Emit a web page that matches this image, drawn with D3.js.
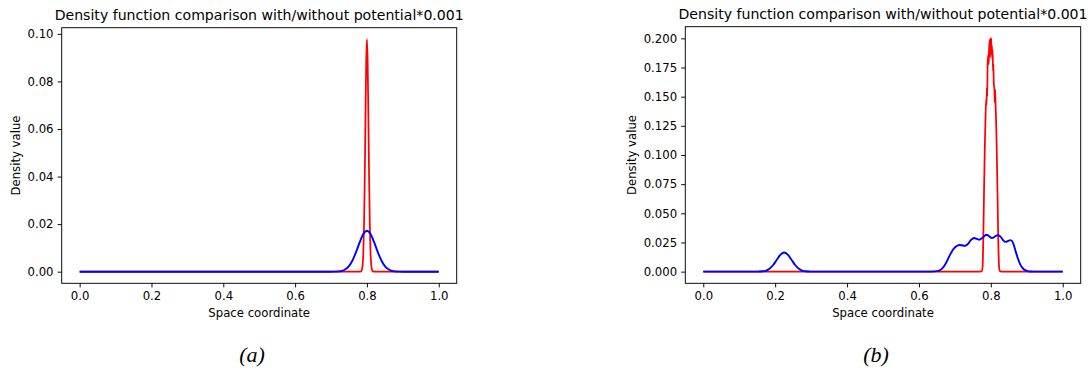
<!DOCTYPE html>
<html>
<head>
<meta charset="utf-8">
<script src="https://cdn.jsdelivr.net/npm/d3@7"></script>
<style>
  html, body { margin: 0; padding: 0; background: #ffffff; }
  svg { display: block; }
  text { font-family: "DejaVu Sans", sans-serif; fill: #000; }
</style>
</head>
<body>
<svg id="chart" width="1092" height="374"></svg>
<script>
// ---------- data ----------
const titleText = "Density function comparison with/without potential*0.001";
const xLabelText = "Space coordinate";
const yLabelText = "Density value";
const captions = ["(a)", "(b)"];

const xTicks = [0, 0.2, 0.4, 0.6, 0.8, 1.0];
const yTicksA = [0, 0.02, 0.04, 0.06, 0.08, 0.10];
const yTicksB = [0, 0.025, 0.05, 0.075, 0.1, 0.125, 0.15, 0.175, 0.2];

// panel (a): red = with potential, blue = without
const aRedX = [0, 0.78, 0.784, 0.786, 0.788, 0.79, 0.792, 0.794, 0.796, 0.798, 0.8, 0.802, 0.804, 0.806, 0.808, 0.81, 0.812, 0.814, 0.816, 0.82, 1];
const aRedY = [0, 0, 0.0002, 0.0008, 0.0028, 0.0082, 0.0201, 0.0401, 0.0657, 0.0883, 0.0977, 0.0883, 0.0657, 0.0401, 0.0201, 0.0082, 0.0028, 0.0008, 0.0002, 0, 0];

const aBlueX = [0, 0.70, 0.71, 0.72, 0.73, 0.74, 0.75, 0.76, 0.77, 0.78, 0.79, 0.80, 0.81, 0.82, 0.83, 0.84, 0.85, 0.86, 0.87, 0.88, 0.89, 0.90, 1];
const aBlueY = [0, 0, 0.00002, 0.0001, 0.0003, 0.001, 0.0023, 0.0048, 0.0083, 0.0124, 0.0158, 0.0172, 0.0158, 0.0124, 0.0083, 0.0048, 0.0023, 0.001, 0.0003, 0.0001, 0.00002, 0, 0];

// panel (b)
const bRedX = [0, 0.770, 0.775, 0.777, 0.779, 0.781, 0.783, 0.785, 0.787, 0.788, 0.789, 0.790, 0.791, 0.793, 0.794, 0.795, 0.797, 0.798, 0.799, 0.800, 0.801, 0.802, 0.803, 0.804, 0.805, 0.806, 0.807, 0.808, 0.810, 0.811, 0.812, 0.813, 0.815, 0.817, 0.819, 0.821, 0.823, 0.825, 0.83, 1];
const bRedY = [0, 0, 0.0005, 0.004, 0.028, 0.068, 0.103, 0.130, 0.148, 0.143, 0.158, 0.150, 0.178, 0.186, 0.178, 0.190, 0.199, 0.184, 0.200, 0.194, 0.200, 0.186, 0.194, 0.182, 0.190, 0.172, 0.178, 0.163, 0.155, 0.145, 0.156, 0.145, 0.125, 0.095, 0.058, 0.022, 0.004, 0.0005, 0, 0];

const bBlueX = [0, 0.15, 0.155, 0.165, 0.175, 0.185, 0.195, 0.205, 0.215, 0.225, 0.235, 0.245, 0.255, 0.265, 0.275, 0.285, 0.295, 0.30,
  0.62, 0.645, 0.655, 0.665, 0.675, 0.685, 0.695, 0.705, 0.714, 0.722, 0.729, 0.737, 0.745, 0.754, 0.762, 0.768, 0.775, 0.782, 0.788, 0.795, 0.803, 0.808, 0.815, 0.821, 0.828, 0.835, 0.841, 0.848, 0.855, 0.862, 0.868, 0.875, 0.882, 0.89, 0.90, 0.91, 0.92, 1];
const bBlueY = [0, 0, 0.00006, 0.00028, 0.00096, 0.0027, 0.0059, 0.0104, 0.0146, 0.0164, 0.0146, 0.0104, 0.0059, 0.0027, 0.00096, 0.00028, 0.00006, 0,
  0, 0.0002, 0.0008, 0.0028, 0.0072, 0.0135, 0.0190, 0.0220, 0.0229, 0.0224, 0.0222, 0.0240, 0.0272, 0.0289, 0.0280, 0.0274, 0.0286, 0.0306, 0.0316, 0.0305, 0.0288, 0.0293, 0.0308, 0.0312, 0.0296, 0.0266, 0.0255, 0.0263, 0.0270, 0.0245, 0.0185, 0.0115, 0.0060, 0.0025, 0.0007, 0.0001, 0, 0];

// ---------- drawing ----------
const svg = d3.select("#chart");
const FS_TICK = 11.7, FS_TITLE = 14.1;

function zip(xs, ys) { return xs.map((x, i) => ({ x: x, y: ys[i] })); }

function drawPanel(p) {
  const red = zip(p.redX, p.redY), blue = zip(p.blueX, p.blueY);
  const all = red.concat(blue);
  const xe = d3.extent(all, d => d.x), ye = d3.extent(all, d => d.y);
  const xm = (xe[1] - xe[0]) * 0.05, ym = (ye[1] - ye[0]) * 0.05;
  const x = d3.scaleLinear().domain([xe[0] - xm, xe[1] + xm]).range([p.left, p.right]);
  const y = d3.scaleLinear().domain([ye[0] - ym, ye[1] + ym]).range([p.bottom, p.top]);

  const g = svg.append("g");
  const line = d3.line().x(d => x(d.x)).y(d => y(d.y)).curve(d3.curveMonotoneX);

  const clipId = "clip" + p.name;
  svg.append("clipPath").attr("id", clipId).append("rect")
    .attr("x", p.left).attr("y", p.top).attr("width", p.right - p.left).attr("height", p.bottom - p.top);

  const lines = g.append("g").attr("clip-path", `url(#${clipId})`);
  lines.append("path").datum(red).attr("d", line)
    .attr("fill", "none").attr("stroke", "#ff0000").attr("stroke-width", 1.75).attr("stroke-linejoin", "round");
  lines.append("path").datum(blue).attr("d", line)
    .attr("fill", "none").attr("stroke", "#0000ff").attr("stroke-width", 1.9).attr("stroke-linejoin", "round");

  // axes
  const xAxis = d3.axisBottom(x).tickValues(xTicks).tickFormat(d3.format(".1f")).tickSizeInner(4.1).tickSizeOuter(0).tickPadding(4.1);
  const yAxis = d3.axisLeft(y).tickValues(p.yTicks).tickFormat(d3.format(p.yFmt)).tickSizeInner(4.1).tickSizeOuter(0).tickPadding(4.1);

  const gx = g.append("g").attr("transform", `translate(0,${p.bottom})`).call(xAxis);
  const gy = g.append("g").attr("transform", `translate(${p.left},0)`).call(yAxis);
  [gx, gy].forEach(a => {
    a.select(".domain").remove();
    a.selectAll(".tick line").attr("stroke", "#000").attr("stroke-width", 0.95);
    a.selectAll(".tick text").attr("font-family", "DejaVu Sans").attr("font-size", FS_TICK).attr("fill", "#000");
  });
  gx.selectAll(".tick text").attr("dy", "0.73em");

  // frame
  g.append("rect").attr("x", p.left).attr("y", p.top)
    .attr("width", p.right - p.left).attr("height", p.bottom - p.top)
    .attr("fill", "none").attr("stroke", "#000").attr("stroke-width", 0.95);

  const cx = (p.left + p.right) / 2, cy = (p.top + p.bottom) / 2;
  g.append("text").attr("x", cx).attr("y", p.top - 7.6).attr("text-anchor", "middle")
    .attr("font-size", FS_TITLE).text(titleText);
  g.append("text").attr("x", cx).attr("y", 316.8).attr("text-anchor", "middle")
    .attr("font-size", FS_TICK).text(xLabelText);
  g.append("text").attr("transform", `translate(${p.ylabX},${cy}) rotate(-90)`).attr("text-anchor", "middle")
    .attr("font-size", FS_TICK).text(yLabelText);

  svg.append("text").attr("x", p.capX).attr("y", 362).attr("text-anchor", "middle")
    .style("font-family", "'Liberation Serif', 'DejaVu Serif', serif").style("font-style", "italic")
    .attr("font-size", 22).text(p.caption);
}

drawPanel({ name: "a", left: 61.7, right: 456.7, top: 27.7, bottom: 283.3,
  redX: aRedX, redY: aRedY, blueX: aBlueX, blueY: aBlueY,
  yTicks: yTicksA, yFmt: ".2f", ylabX: 20.2, capX: 252, caption: captions[0] });
drawPanel({ name: "b", left: 685.3, right: 1080.7, top: 26.7, bottom: 283.3,
  redX: bRedX, redY: bRedY, blueX: bBlueX, blueY: bBlueY,
  yTicks: yTicksB, yFmt: ".3f", ylabX: 636.2, capX: 876, caption: captions[1] });
</script>
</body>
</html>
